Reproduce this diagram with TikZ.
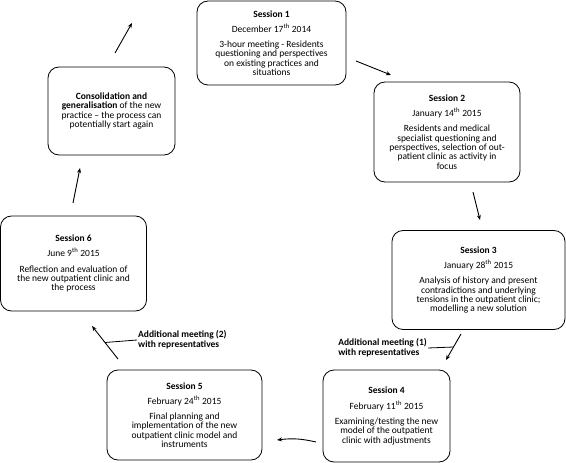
\documentclass[tikz,border=0pt]{standalone}
\usepackage{fontspec}
\setmainfont{Carlito}
\usetikzlibrary{arrows.meta,positioning}

\newcommand{\ordth}{\textsuperscript{th}}
\newcommand{\boxfont}{\fontsize{9.5}{9.3}\selectfont\lineskiplimit=-4pt\relax}

\begin{document}
\begin{tikzpicture}[x=1pt,y=-1pt,
    box/.style={draw,line width=0.8pt,rounded corners=11pt,align=center,inner sep=2pt,
      font=\boxfont},
    lab/.style={align=left,inner sep=1pt,font=\fontsize{9.5}{9.6}\selectfont\bfseries},
    arr/.style={-{Stealth[length=5pt,width=4pt]},line width=0.9pt}]
          \useasboundingbox (0,0) rectangle (566,463);
          % sessions
          \node[box,minimum width=149pt,minimum height=84pt] (s1) at (271.5,43)
            {\textbf{Session 1}\\[6pt] December 17\ordth{} 2014\\[6pt]
             3-hour meeting - Residents\\ questioning and perspectives\\
             on existing practices and\\ situations};
          \node[box,minimum width=146pt,minimum height=100pt] (s2) at (447,132)
            {\textbf{Session 2}\\[6pt] January 14\ordth{} 2015\\[6pt]
             Residents and medical\\ specialist questioning and\\
             perspectives, selection of out-\\ patient clinic as activity in\\ focus};
          \node[box,minimum width=173pt,minimum height=99pt] (s3) at (478.5,280)
            {\textbf{Session 3}\\[6pt] January 28\ordth{} 2015\\[6pt]
             Analysis of history and present\\ contradictions and underlying\\
             tensions in the outpatient clinic;\\ modelling a new solution};
          \node[box,minimum width=127pt,minimum height=92pt] (s4) at (386.5,416)
            {\textbf{Session 4}\\[6pt] February 11\ordth{} 2015\\[6pt]
             Examining/testing the new\\ model of the outpatient\\
             clinic with adjustments};
          \node[box,minimum width=155pt,minimum height=90pt] (s5) at (184.5,415)
            {\textbf{Session 5}\\[6pt] February 24\ordth{} 2015\\[6pt]
             Final planning and\\ implementation of the new\\
             outpatient clinic model and\\ instruments};
          \node[box,minimum width=146pt,minimum height=95pt] (s6) at (73.5,263.5)
            {\textbf{Session 6}\\[6pt] June 9\ordth{} 2015\\[6pt]
             Reflection and evaluation of\\ the new outpatient clinic and\\
             the process};
          \node[box,minimum width=127pt,minimum height=88pt] (cons) at (111.5,111)
            {\textbf{Consolidation and}\\ \textbf{generalisation} of the new\\
             practice -- the process can\\ potentially start again};
          % extra meetings
          \node[lab,anchor=east] (m1) at (428,348)
            {Additional meeting (1)\\ with representatives};
          \node[lab,anchor=west] (m2) at (137,340)
            {Additional meeting (2)\\ with representatives};
          % arrow ends
          \coordinate (a1) at (356,61);   \coordinate (b1) at (391,75);
          \coordinate (a2) at (473,192);  \coordinate (b2) at (480,220);
          \coordinate (a3) at (461,334);  \coordinate (b3) at (446,360);
          \coordinate (a4) at (316,442);  \coordinate (b4) at (277,440);
          \coordinate (a5) at (118,359);  \coordinate (b5) at (92,326);
          \coordinate (a6) at (73,203);   \coordinate (b6) at (80,168);
          \coordinate (a7) at (115,53);   \coordinate (b7) at (132,23);
          \draw[arr] (a1) -- (b1);
          \draw[arr] (a2) -- (b2);
          \draw[arr] (a3) -- coordinate (c3) (b3);
          \draw[arr] (a4) to[bend right=10] (b4);
          \draw[arr] (a5) -- coordinate (c5) (b5);
          \draw[arr] (a6) -- (b6);
          \draw[arr] (a7) -- (b7);
          \draw[line width=0.8pt] (m1.east) -- (c3);
          \draw[line width=0.8pt] (m2.west) -- (c5);
        \end{tikzpicture}
\end{document}
